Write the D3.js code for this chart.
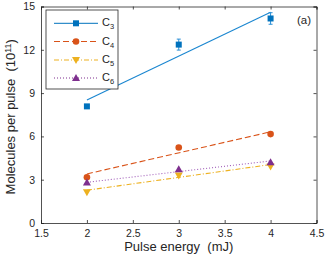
<!DOCTYPE html>
<html><head><meta charset="utf-8">
<script src="https://cdn.jsdelivr.net/npm/d3@7"></script>
<style>body{margin:0;background:#fff}text{font-family:"Liberation Sans",Arial,sans-serif;white-space:pre}</style>
</head><body><svg id="c" width="325" height="257"></svg>
<script>
const energies = [2, 3, 4];
const seriesNames = ["3", "4", "5", "6"];
const c3 = [8.08, 12.36, 14.17];
const c4 = [3.17, 5.23, 6.16];
const c5 = [2.13, 3.29, 3.91];
const c6 = [2.80, 3.73, 4.21];
const c3err = [0.1, 0.38, 0.4];
const fitStart = [8.52, 3.40, 2.27, 2.82];
const fitEnd = [14.60, 6.32, 4.05, 4.30];
const xTicks = [1.5, 2, 2.5, 3, 3.5, 4, 4.5];
const yTicks = [0, 3, 6, 9, 12, 15];

const colors = ["#0072BD", "#D95319", "#EDB120", "#7E2F8E"];
const fitColors = ["#1a86d0", "#D95319", "#EDB120", "#a05cb8"];
const dashes = [null, "6,3", "5,2,1,2", "1,2"];
const markers = ["square", "circle", "triangleDown", "triangleUp"];
const values = [c3, c4, c5, c6];

const svg = d3.select("#c");
const L = 41, R = 316.5, T = 6.5, B = 223;
const x = d3.scaleLinear().domain([1.5, 4.5]).range([L, R]);
const y = d3.scaleLinear().domain([0, 15]).range([B, T]);

// axes
const gx = svg.append("g").attr("transform", `translate(0,${B})`)
  .call(d3.axisBottom(x).tickValues(xTicks).tickSize(-3).tickPadding(7).tickFormat(d3.format("")));
const gxt = svg.append("g").attr("transform", `translate(0,${T})`)
  .call(d3.axisTop(x).tickValues(xTicks).tickSize(-3).tickFormat(""));
const gy = svg.append("g").attr("transform", `translate(${L},0)`)
  .call(d3.axisLeft(y).tickValues(yTicks).tickSize(-3).tickPadding(6));
const gyr = svg.append("g").attr("transform", `translate(${R},0)`)
  .call(d3.axisRight(y).tickValues(yTicks).tickSize(-3).tickFormat(""));
[gx, gxt, gy, gyr].forEach(g => {
  g.selectAll("path").attr("stroke", "#262626").attr("stroke-width", 0.8);
  g.selectAll("line").attr("stroke", "#262626").attr("stroke-width", 0.8);
  g.selectAll("text").attr("fill", "#262626").style("font-size", "10.5px");
});

// fits
seriesNames.forEach((n, i) => {
  svg.append("line")
    .attr("x1", x(energies[0])).attr("y1", y(fitStart[i]))
    .attr("x2", x(energies[2])).attr("y2", y(fitEnd[i]))
    .attr("stroke", fitColors[i]).attr("stroke-width", 1.1)
    .attr("stroke-dasharray", dashes[i]);
});

function drawMarker(g, type, cx, cy, color) {
  if (type === "square") {
    g.append("rect").attr("x", cx - 3).attr("y", cy - 3).attr("width", 6).attr("height", 6).attr("fill", color);
  } else if (type === "circle") {
    g.append("circle").attr("cx", cx).attr("cy", cy).attr("r", 3.3).attr("fill", color);
  } else if (type === "triangleDown") {
    g.append("path").attr("d", `M${cx - 4},${cy - 3}L${cx + 4},${cy - 3}L${cx},${cy + 4}Z`).attr("fill", color);
  } else {
    g.append("path").attr("d", `M${cx - 4},${cy + 3}L${cx + 4},${cy + 3}L${cx},${cy - 4}Z`).attr("fill", color);
  }
}

// error bars for C3
energies.forEach((e, j) => {
  const cx = x(e);
  const g = svg.append("g").attr("stroke", "#2a8fd6").attr("stroke-width", 1);
  g.append("line").attr("x1", cx).attr("x2", cx).attr("y1", y(c3[j] - c3err[j])).attr("y2", y(c3[j] + c3err[j]));
  g.append("line").attr("x1", cx - 2).attr("x2", cx + 2).attr("y1", y(c3[j] - c3err[j])).attr("y2", y(c3[j] - c3err[j]));
  g.append("line").attr("x1", cx - 2).attr("x2", cx + 2).attr("y1", y(c3[j] + c3err[j])).attr("y2", y(c3[j] + c3err[j]));
});

// markers
values.forEach((vals, i) => {
  vals.forEach((v, j) => drawMarker(svg, markers[i], x(energies[j]), y(v), colors[i]));
});

// legend
const lg = svg.append("g");
lg.append("rect").attr("x", 46).attr("y", 10).attr("width", 72).attr("height", 79)
  .attr("fill", "#fff").attr("stroke", "#262626").attr("stroke-width", 0.8);
const ly = [23.3, 41.5, 60, 78];
seriesNames.forEach((n, i) => {
  lg.append("line").attr("x1", 54).attr("x2", 98).attr("y1", ly[i]).attr("y2", ly[i])
    .attr("stroke", colors[i]).attr("stroke-width", 1).attr("stroke-dasharray", dashes[i]);
  drawMarker(lg, markers[i], 76, ly[i], colors[i]);
  const t = lg.append("text").attr("x", 102).attr("y", ly[i] + 3).attr("fill", "#262626").style("font-size", "11px");
  t.append("tspan").text("C");
  t.append("tspan").attr("dy", 3).style("font-size", "7.5px").text(n);
});

// (a)
svg.append("text").attr("x", 297).attr("y", 24).attr("fill", "#262626").style("font-size", "11.5px").text("(a)");

// axis labels
svg.append("text").attr("x", (L + R) / 2).attr("y", 251).attr("text-anchor", "middle")
  .attr("fill", "#262626").style("font-size", "13px").text("Pulse energy  (mJ)");
const yl = svg.append("text").attr("transform", `translate(15,${(T + B) / 2 + 2}) rotate(-90)`)
  .attr("text-anchor", "middle").attr("fill", "#262626").style("font-size", "13px");
yl.append("tspan").text("Molecules per pulse  (10");
yl.append("tspan").attr("dy", -4.5).style("font-size", "9px").text("11");
yl.append("tspan").attr("dy", 4.5).text(")");
</script></body></html>
